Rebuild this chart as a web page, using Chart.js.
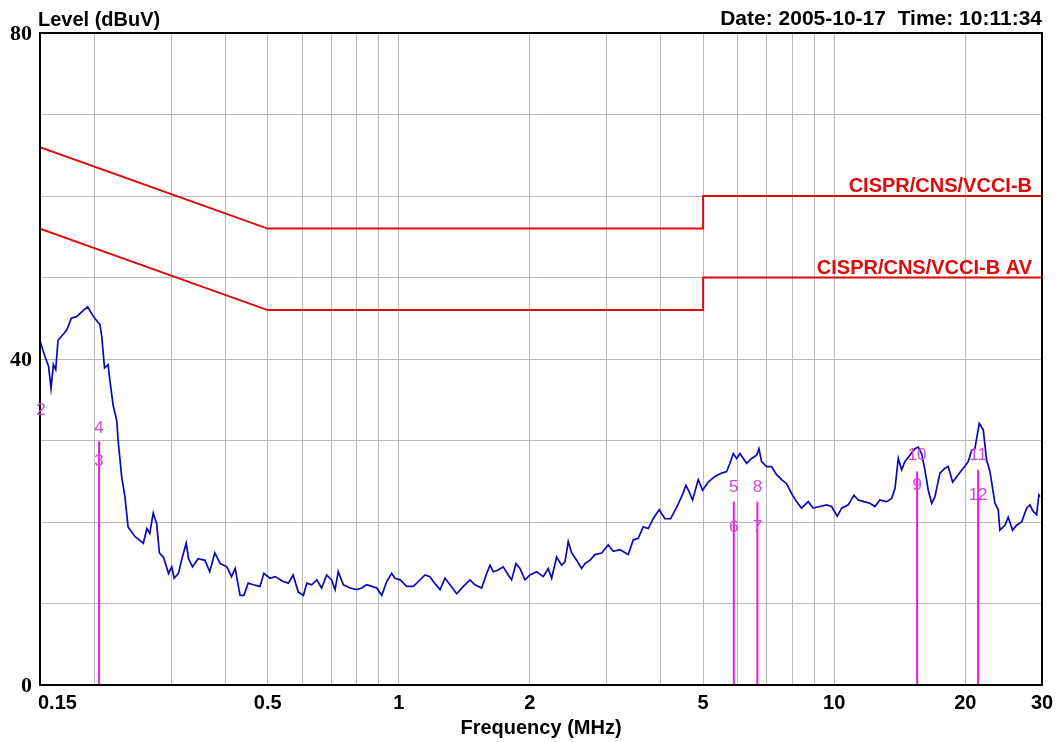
<!DOCTYPE html>
<html><head><meta charset="utf-8">
<script src="https://cdn.jsdelivr.net/npm/chart.js@4.4.0/dist/chart.umd.min.js"></script>
<style>html,body{margin:0;padding:0;background:#fff}#wrap{width:1062px;height:742px;position:relative}</style>
</head><body><div id="wrap"><canvas id="c"></canvas></div>
<script>
const freqMHz = [
0.150,0.154,0.157,0.159,0.161,0.163,0.165,0.170,0.173,0.177,0.182,0.189,0.193,0.199,0.206,0.208,0.211,0.215,0.217,0.221,
0.225,0.227,0.231,0.235,0.239,0.248,0.259,0.264,0.268,0.273,0.278,0.282,0.288,0.296,0.301,0.305,0.312,0.317,0.325,0.329,
0.336,0.346,0.359,0.368,0.378,0.389,0.403,0.413,0.421,0.432,0.441,0.451,0.463,0.480,0.490,0.506,0.520,0.543,0.558,0.572,
0.588,0.604,0.615,0.631,0.648,0.665,0.683,0.701,0.714,0.726,0.746,0.773,0.801,0.822,0.844,0.867,0.890,0.914,0.938,0.963,
0.980,1.007,1.043,1.080,1.109,1.149,1.179,1.200,1.244,1.277,1.311,1.358,1.407,1.457,1.496,1.550,1.592,1.620,1.648,1.692,
1.737,1.784,1.816,1.858,1.898,1.949,2.001,2.073,2.147,2.204,2.244,2.304,2.366,2.408,2.450,2.495,2.561,2.630,2.676,2.748,
2.822,2.924,3.027,3.108,3.220,3.365,3.455,3.547,3.642,3.740,3.838,3.963,4.085,4.210,4.346,4.462,4.565,4.645,4.729,4.872,
4.986,5.136,5.321,5.514,5.661,5.761,5.862,5.969,6.074,6.293,6.461,6.634,6.715,6.811,6.994,7.179,7.372,7.570,7.773,7.981,
8.195,8.415,8.714,8.948,9.270,9.604,9.862,10.16,10.40,10.77,11.10,11.35,11.70,12.08,12.40,12.73,13.19,13.55,13.79,14.03,
14.28,14.53,14.92,15.32,15.59,15.87,16.15,16.44,16.74,17.03,17.49,17.96,18.27,18.70,19.26,19.78,20.31,20.68,21.04,21.53,
21.99,22.38,22.78,23.39,23.80,24.01,24.66,25.09,25.68,26.23,26.93,27.66,28.14,28.64,29.16,29.51,29.67
];
const levelDbuV = [
42.2,40.3,39.1,36.4,39.3,38.7,42.3,43.1,43.6,45.0,45.2,46.0,46.4,45.2,44.2,42.7,38.9,39.3,37.4,34.2,
32.5,29.7,25.6,23.1,19.4,18.2,17.4,19.2,18.6,21.1,19.8,16.2,15.7,13.7,14.5,13.1,13.7,15.3,17.4,15.5,
14.5,15.5,15.3,13.9,16.2,14.9,14.5,13.3,14.3,11.0,11.0,12.5,12.3,12.1,13.7,13.1,13.3,12.7,12.5,13.5,
11.4,11.0,12.5,12.3,12.9,11.9,13.5,12.9,11.7,13.9,12.3,11.9,11.7,11.9,12.3,12.1,11.9,11.0,12.7,13.7,
13.1,12.9,12.1,12.1,12.7,13.5,13.3,12.7,11.7,13.1,12.3,11.2,12.1,12.9,12.3,11.9,13.7,14.7,13.9,14.1,
14.5,13.5,12.9,14.9,14.3,12.9,13.5,13.9,13.3,14.3,13.1,15.7,14.7,15.1,17.6,16.2,15.3,14.3,14.9,15.3,
16.0,16.2,17.2,16.4,16.6,16.0,17.8,18.0,19.4,19.2,20.4,21.5,20.4,20.4,21.8,23.1,24.5,23.7,22.7,25.2,
23.9,24.9,25.6,26.0,26.2,27.2,28.4,27.8,28.4,27.2,27.8,28.2,29.0,27.4,26.8,26.8,25.8,25.2,24.7,23.5,
22.5,21.7,22.5,21.7,21.9,22.1,21.9,20.7,21.7,22.1,23.3,22.7,22.5,22.3,21.9,22.7,22.5,22.9,24.1,27.8,
26.4,27.4,28.2,29.0,29.2,28.4,26.4,23.9,22.3,23.1,26.0,26.6,26.8,24.9,25.8,26.6,27.4,28.8,29.0,32.1,
31.3,27.6,26.2,22.3,21.5,19.0,19.6,20.6,19.0,19.6,20.0,21.7,22.1,21.3,20.9,23.3,23.1
];
const qpLimitFreq = [0.15, 0.5, 5, 5, 30];
const qpLimitLevel = [66, 56, 56, 60, 60];
const avLimitFreq = [0.15, 0.5, 5, 5, 30];
const avLimitLevel = [56, 46, 46, 50, 50];
const limitNames = ['CISPR/CNS/VCCI-B', 'CISPR/CNS/VCCI-B AV'];
const limitLabelLevel = [60, 50];
const markerLineFreq = [0.205, 5.88, 6.66, 15.5, 21.4];
const markerLineTop = [29.9, 22.5, 22.5, 26.2, 26.4];
const markerNames = ['2', '4', '3', '5', '6', '8', '7', '10', '9', '11', '12'];
const markerLabelFreq = [0.15, 0.205, 0.205, 5.88, 5.88, 6.66, 6.66, 15.5, 15.5, 21.4, 21.4];
const markerLabelLevel = [33.7, 31.5, 27.4, 24.3, 19.4, 24.3, 19.4, 28.2, 24.5, 28.2, 23.3];
const xGridValues = [0.15, 0.2, 0.3, 0.4, 0.5, 0.6, 0.7, 0.8, 0.9, 1, 2, 3, 4, 5, 6, 7, 8, 9, 10, 20, 30];
const xTickLabels = ['0.15', '0.5', '1', '2', '5', '10', '20', '30'];
const yTickLabels = ['80', '40', '0'];
const titleText = 'Level (dBuV)';
const dateText = 'Date: 2005-10-17  Time: 10:11:34';
const xAxisTitle = 'Frequency (MHz)';

const pts = (xs, ys) => xs.map((x, i) => ({x: x, y: ys[i]}));
const datasets = [];
markerLineFreq.forEach((f, i) => {
  datasets.push({data: [{x: f, y: 0}, {x: f, y: markerLineTop[i]}], borderColor: '#e61ee6', borderWidth: 2});
});
datasets.push({data: pts(freqMHz, levelDbuV), borderColor: '#0a0ab4', borderWidth: 1.7});
datasets.push({data: pts(qpLimitFreq, qpLimitLevel), borderColor: '#dc0a0a', borderWidth: 2});
datasets.push({data: pts(avLimitFreq, avLimitLevel), borderColor: '#dc0a0a', borderWidth: 2});

const SANS = '"Liberation Sans", Arial, sans-serif';
const SERIF = '"Liberation Serif", "Times New Roman", serif';

const textPlugin = {
  id: 'texts',
  afterDraw(chart) {
    const ctx = chart.ctx, a = chart.chartArea;
    const xs = chart.scales.x, ys = chart.scales.y;
    ctx.save();
    ctx.strokeStyle = '#000'; ctx.lineWidth = 2;
    ctx.strokeRect(a.left, a.top, a.right - a.left, a.bottom - a.top);
    ctx.fillStyle = '#000';
    ctx.textBaseline = 'alphabetic';
    ctx.font = 'bold 20px ' + SANS;
    ctx.textAlign = 'left';
    ctx.fillText(titleText, a.left - 2, 26);
    ctx.font = 'bold 21px ' + SANS;
    ctx.textAlign = 'right';
    ctx.fillText(dateText, a.right, 25);
    // y labels
    ctx.font = 'bold 22px ' + SERIF;
    ctx.textAlign = 'right'; ctx.textBaseline = 'middle';
    yTickLabels.forEach(t => ctx.fillText(t, a.left - 8, ys.getPixelForValue(parseFloat(t)) + 1));
    // x labels
    ctx.font = 'bold 20px ' + SANS;
    ctx.textBaseline = 'alphabetic';
    xTickLabels.forEach((t, i) => {
      const v = parseFloat(t);
      const px = xs.getPixelForValue(v);
      ctx.textAlign = i === 0 ? 'left' : 'center';
      ctx.fillText(t, i === 0 ? px - 2 : px, 709);
    });
    ctx.textAlign = 'center';
    ctx.fillText(xAxisTitle, (a.left + a.right) / 2, 734);
    // limit names
    ctx.fillStyle = '#dc0a0a';
    ctx.font = 'bold 20px ' + SANS;
    ctx.textAlign = 'right';
    limitNames.forEach((n, i) => ctx.fillText(n, a.right - 10, ys.getPixelForValue(limitLabelLevel[i]) - 4));
    // marker labels
    ctx.fillStyle = '#d646d6';
    ctx.font = '17px ' + SANS;
    ctx.textAlign = 'center'; ctx.textBaseline = 'middle';
    markerNames.forEach((n, i) => {
      let px = xs.getPixelForValue(markerLabelFreq[i]);
      if (i === 0) px += 1;
      ctx.fillText(n, px, ys.getPixelForValue(markerLabelLevel[i]));
    });
    ctx.restore();
  }
};

new Chart(document.getElementById('c'), {
  type: 'line',
  data: {datasets: datasets},
  plugins: [textPlugin],
  options: {
    responsive: true, maintainAspectRatio: false, animation: false,
    layout: {padding: {top: 33, right: 20, left: 0, bottom: 0}},
    elements: {point: {radius: 0}, line: {tension: 0}},
    plugins: {legend: {display: false}, tooltip: {enabled: false}},
    scales: {
      x: {
        type: 'logarithmic', min: 0.15, max: 30,
        afterBuildTicks: s => { s.ticks = xGridValues.map(v => ({value: v})); },
        ticks: {display: false},
        grid: {color: '#b9b9b9', lineWidth: 1, drawTicks: false},
        border: {display: true, color: '#000', width: 2},
        afterFit: s => { s.height = 57; }
      },
      y: {
        min: 0, max: 80,
        ticks: {display: false, stepSize: 10},
        grid: {color: '#b9b9b9', lineWidth: 1, drawTicks: false},
        border: {display: true, color: '#000', width: 2},
        afterFit: s => { s.width = 40; }
      }
    }
  }
});
</script>
</body></html>
